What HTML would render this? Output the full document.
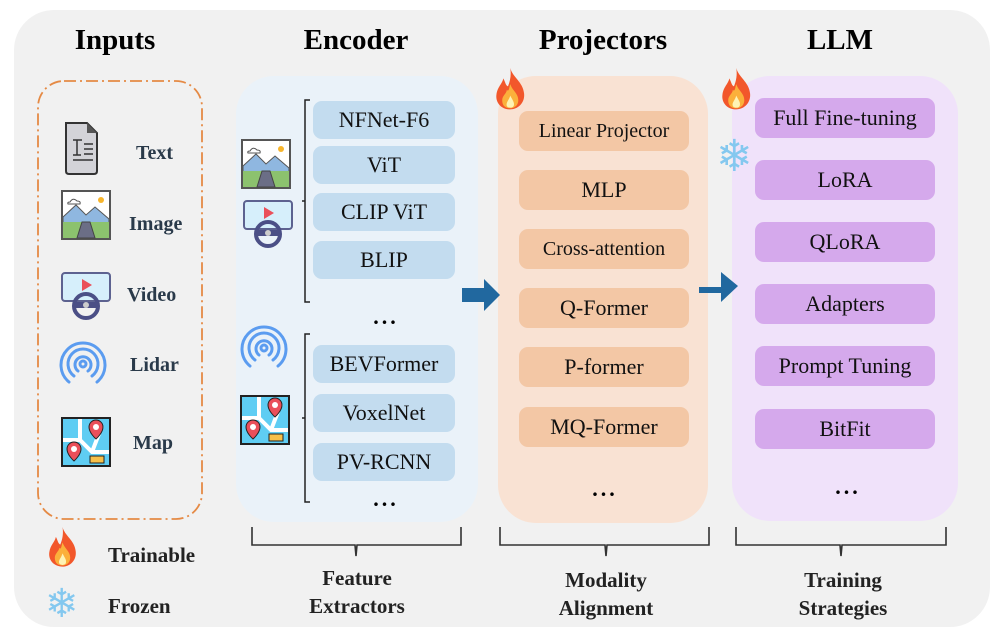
<!DOCTYPE html>
<html><head><meta charset="utf-8"><style>
body{margin:0;width:996px;height:642px;background:#fff;position:relative;overflow:hidden;font-family:"Liberation Serif",serif;}
.a{position:absolute;}
.bg{left:14px;top:10px;width:976px;height:617px;background:#f1f1f1;border-radius:40px;}
.t{position:absolute;font-weight:bold;font-size:29px;color:#000;transform:translateX(-50%);top:24px;white-space:nowrap;}
.box{position:absolute;border-radius:9px;display:flex;align-items:center;justify-content:center;font-size:22px;color:#111;white-space:nowrap;}
.enc{background:#c3dcef;left:313px;width:142px;height:38px;}
.pro{background:#f3c7a5;left:519px;width:170px;height:40px;}
.llm{background:#d5a9ec;left:755px;width:180px;height:40px;}
.lbl{position:absolute;font-weight:bold;font-size:20px;color:#2a3a4a;}
.cap{position:absolute;font-weight:bold;font-size:21px;color:#222;text-align:center;line-height:28px;transform:translateX(-50%);white-space:nowrap;}
.dots{position:absolute;font-size:22px;font-weight:bold;letter-spacing:3px;transform:translateX(-50%);}
.snow{position:absolute;color:#84c8ef;font-family:"DejaVu Sans",sans-serif;}
</style></head><body>
<div class="a bg"></div>
<div class="t" style="left:115px">Inputs</div>
<div class="t" style="left:356px">Encoder</div>
<div class="t" style="left:603px">Projectors</div>
<div class="t" style="left:840px">LLM</div>

<svg class="a" style="left:0;top:0" width="996" height="642">
<defs>
<g id="fire"><path d="M15 0 C17 8 26 12 27 22 C28 30 22 36 15 36 C7 36 2 30 3 23 C4 16 8 14 9 9 C11 13 11 15 13 16 C15 11 16 6 15 0Z" fill="#f2572b"/><path d="M15 14 C17 20 22 22 22 28 C22 33 18 35 15 35 C11 35 8 33 8 28 C8 24 12 22 12 19 C14 21 14 17 15 14Z" fill="#fbb03b"/><path d="M15 24 C17 28 19 30 18 33 C17 35 13 35 12 33 C11 30 14 28 15 24Z" fill="#fef3b5"/></g>
<g id="img"><rect x="0" y="0" width="48" height="48" fill="#fff" stroke="#555" stroke-width="2"/><path d="M1 26 L14 14 L24 24 L33 16 L47 28 L47 32 L1 32Z" fill="#8fb7e0" stroke="#555" stroke-width="1"/><rect x="1" y="31" width="46" height="16" fill="#8cc26e"/><path d="M20 31 L28 31 L33 47 L15 47Z" fill="#6b6e86" stroke="#444"/><circle cx="39" cy="9" r="3" fill="#f7b52c"/><path d="M8 11 q3 -5 7 -1 q4 0 3 3 l-12 0 q-1 -2 2 -2Z" fill="#fff" stroke="#555"/></g>
<g id="vid"><rect x="0" y="0" width="48" height="28" rx="3" fill="#d6effb" stroke="#5d6290" stroke-width="2"/><path d="M20 6 L30 12 L20 18Z" fill="#ea4f5a"/><circle cx="24" cy="33" r="12" fill="none" stroke="#4b4f86" stroke-width="4"/><rect x="13" y="29" width="22" height="6" fill="#4b4f86"/><circle cx="24" cy="32" r="3" fill="#ccc"/></g>
<g id="lid" fill="none" stroke="#5b9cf0" stroke-width="3" stroke-linecap="round"><path d="M10 42 A22 22 0 1 1 38 42"/><path d="M15 36 A15 15 0 1 1 33 36"/><path d="M19 31 A8 8 0 1 1 29 31"/><circle cx="24" cy="24" r="3"/></g>
<g id="map"><rect x="0" y="0" width="48" height="48" fill="#5fcdf3" stroke="#222" stroke-width="2"/><path d="M1 22 L18 22 L30 34 L47 34 M18 22 L18 1 M30 34 L40 8" stroke="#fff" stroke-width="4" fill="none"/><path d="M34 2 a7 7 0 0 1 7 7 c0 6 -7 12 -7 12 c0 0 -7 -6 -7 -12 a7 7 0 0 1 7 -7Z" fill="#ea4f5a" stroke="#222"/><circle cx="34" cy="9" r="3" fill="#fff"/><path d="M12 24 a7 7 0 0 1 7 7 c0 6 -7 12 -7 12 c0 0 -7 -6 -7 -12 a7 7 0 0 1 7 -7Z" fill="#ea4f5a" stroke="#222"/><circle cx="12" cy="31" r="3" fill="#fff"/><rect x="28" y="38" width="14" height="7" fill="#f7c04a" stroke="#222"/></g>
</defs>
<rect x="38" y="81" width="164" height="438" rx="26" fill="none" stroke="#e58a45" stroke-width="1.8" stroke-dasharray="12 4 2 4"/>
<path d="M66 123 L87 123 L97 133 L97 171 Q97 174 94 174 L69 174 Q66 174 66 171Z" fill="#d3d3d8" stroke="#333" stroke-width="2"/>
<path d="M87 123 L87 133 L97 133Z" fill="#555"/>
<path d="M73 140 L82 140 M77 140 L77 155 M73 155 L81 155 M84 144 L93 144 M84 149 L93 149 M84 154 L93 154 M73 160 L93 160" stroke="#333" stroke-width="1.5"/>
<use href="#img" x="62" y="191"/>
<use href="#vid" x="62" y="273"/>
<use href="#lid" x="59" y="340"/>
<use href="#map" x="62" y="418"/>
<rect x="236" y="76" width="242" height="446" rx="38" fill="#eaf2f9"/>
<use href="#img" x="242" y="140"/>
<use href="#vid" x="244" y="201"/>
<use href="#lid" x="240" y="324"/>
<use href="#map" x="241" y="396"/>
<path d="M310 100 L305 100 L305 302 L310 302 M305 201 L302 201" stroke="#222" stroke-width="1.5" fill="none"/>
<path d="M310 334 L305 334 L305 502 L310 502 M305 418 L302 418" stroke="#222" stroke-width="1.5" fill="none"/>
<rect x="498" y="76" width="210" height="447" rx="38" fill="#f9e2d3"/>
<rect x="732" y="76" width="226" height="445" rx="38" fill="#f0e2fa"/>
<path d="M462 288 L484 288 L484 279 L500 295 L484 311 L484 302 L462 302Z" fill="#21689f"/>
<path d="M699 280 L721 280 L721 265 L738 279 L721 295 L721 286 L699 286Z" fill="#21689f" transform="translate(0,7)"/>
<g transform="translate(493,68) scale(1.15)"><use href="#fire"/></g>
<g transform="translate(719,68) scale(1.15)"><use href="#fire"/></g>
<path d="M252 527 L252 545 L355 545 L356 556 L357 545 L461 545 L461 527" fill="none" stroke="#333" stroke-width="1.6"/>
<path d="M500 527 L500 545 L605 545 L606 556 L607 545 L709 545 L709 527" fill="none" stroke="#333" stroke-width="1.6"/>
<path d="M736 527 L736 545 L840 545 L841 556 L842 545 L946 545 L946 527" fill="none" stroke="#333" stroke-width="1.6"/>
<g transform="translate(46,527) scale(1.1)"><use href="#fire"/></g>
</svg>

<div class="lbl" style="left:136px;top:142px">Text</div>
<div class="lbl" style="left:129px;top:213px">Image</div>
<div class="lbl" style="left:127px;top:284px">Video</div>
<div class="lbl" style="left:130px;top:354px">Lidar</div>
<div class="lbl" style="left:133px;top:432px">Map</div>

<div class="box enc" style="top:101px">NFNet-F6</div>
<div class="box enc" style="top:146px">ViT</div>
<div class="box enc" style="top:193px">CLIP ViT</div>
<div class="box enc" style="top:241px">BLIP</div>
<div class="dots" style="left:386px;top:304px">...</div>
<div class="box enc" style="top:345px">BEVFormer</div>
<div class="box enc" style="top:394px">VoxelNet</div>
<div class="box enc" style="top:443px">PV-RCNN</div>
<div class="dots" style="left:386px;top:486px">...</div>

<div class="box pro" style="top:111px;font-size:20px">Linear Projector</div>
<div class="box pro" style="top:170px">MLP</div>
<div class="box pro" style="top:229px;font-size:20px">Cross-attention</div>
<div class="box pro" style="top:288px">Q-Former</div>
<div class="box pro" style="top:347px">P-former</div>
<div class="box pro" style="top:407px">MQ-Former</div>
<div class="dots" style="left:605px;top:476px">...</div>

<div class="box llm" style="top:98px">Full Fine-tuning</div>
<div class="box llm" style="top:160px">LoRA</div>
<div class="box llm" style="top:222px">QLoRA</div>
<div class="box llm" style="top:284px">Adapters</div>
<div class="box llm" style="top:346px">Prompt Tuning</div>
<div class="box llm" style="top:409px">BitFit</div>
<div class="dots" style="left:848px;top:474px">...</div>

<div class="snow" style="left:716px;top:134px;font-size:44px;line-height:46px">❄</div>
<div class="snow" style="left:45px;top:583px;font-size:40px;line-height:42px">❄</div>
<div class="lbl" style="left:108px;top:543px;color:#222;font-size:21px">Trainable</div>
<div class="lbl" style="left:108px;top:594px;color:#222;font-size:21px">Frozen</div>

<div class="cap" style="left:357px;top:564px">Feature<br>Extractors</div>
<div class="cap" style="left:606px;top:566px">Modality<br>Alignment</div>
<div class="cap" style="left:843px;top:566px">Training<br>Strategies</div>
</body></html>
